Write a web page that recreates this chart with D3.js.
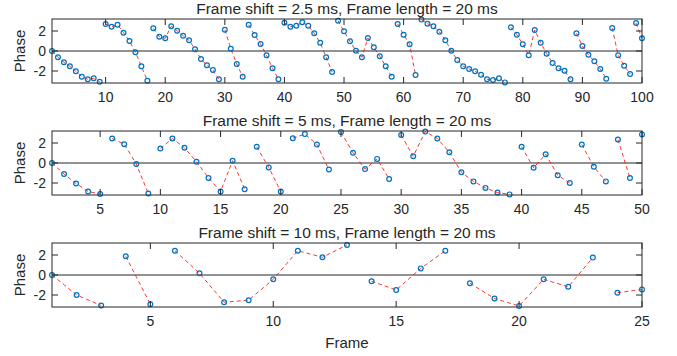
<!DOCTYPE html>
<html>
<head>
<meta charset="utf-8">
<script src="https://cdn.jsdelivr.net/npm/d3@7"></script>
<style>
  body { margin: 0; background: #fff; }
  svg text { font-family: "Liberation Sans", Arial, sans-serif; fill: #262626; }
</style>
</head>
<body>
<svg id="chart" width="677" height="356"></svg>
<script>
// phase per frame
var phase25 = [0, -0.63, -1.13, -1.53, -2.03, -2.57, -2.83, -2.73, -3.07, 2.7,
  2.43, 2.63, 1.83, 1.0, -0.13, -1.53, -2.97, 2.27, 1.43, 1.27,
  2.47, 2.03, 1.53, 1.07, 0.17, -0.8, -1.43, -1.9, -2.83, 2.13,
  0.23, -1.3, -2.57, 2.63, 1.6, 0.7, -0.43, -1.73, -2.83, 2.83,
  2.43, 2.53, 2.87, 2.53, 1.77, 0.83, -0.63, -2.1, 3.03, 1.97,
  0.97, 0.03, -0.63, 1.3, 0.37, -0.53, -1.53, -2.57, 2.7, 1.63,
  0.67, -2.4, 3.14, 2.73, 2.47, 1.93, 1.07, 0.03, -0.9, -1.53,
  -1.8, -2.03, -2.37, -2.83, -2.9, -2.73, -3.14, 2.37, 1.63, 0.67,
  -0.43, 2.1, 0.83, -0.27, -1.2, -1.73, -1.97, -2.83, 1.77, 0.5,
  -0.37, -1.03, -1.8, -2.77, 2.3, -0.43, -1.47, -2.3, 2.8, 1.27];
var phase5 = [0, -1.1, -2.05, -2.85, -3.1, 2.45, 1.88, -0.1, -3.05, 1.45,
  2.45, 1.52, 0.13, -1.5, -2.85, 0.23, -2.62, 1.63, -0.45, -2.85,
  2.48, 2.89, 1.84, -0.65, 3.09, 1.02, -0.61, 0.41, -1.6, 2.79,
  0.67, 3.14, 2.45, 1.08, -0.92, -1.84, -2.49, -2.96, -3.14, 1.63,
  -0.48, 0.88, -1.22, -2.0, 1.84, -0.37, -1.84, 2.35, -1.5, 2.86];
var phase10 = [0, -2.0, -3.05, 1.87, -2.92, 2.43, 0.17, -2.72, -2.52, -0.43,
  2.43, 1.77, 3.0, -0.62, -1.5, 0.66, 2.43, -0.82, -2.35, -3.1,
  -0.43, -1.18, 1.74, -1.77, -1.44];

// frames where the dashed line starts again
var breaks25 = [10, 18, 30, 34, 40, 49, 59, 63, 78, 89, 95, 99];
var breaks5 = [6, 10, 18, 21, 25, 30, 40, 45, 48, 50];
var breaks10 = [4, 6, 14, 18, 24];

var titles = ["Frame shift = 2.5 ms, Frame length = 20 ms",
  "Frame shift = 5 ms, Frame length = 20 ms",
  "Frame shift = 10 ms, Frame length = 20 ms"];
var xTicks25 = [10, 20, 30, 40, 50, 60, 70, 80, 90, 100];
var xTicks5 = [5, 10, 15, 20, 25, 30, 35, 40, 45, 50];
var xTicks10 = [5, 10, 15, 20, 25];
var yTicks = [-2, 0, 2];

var svg = d3.select('#chart');
var left = 52, right = 642, axH = 64;
var tops = [19, 131, 243];

function panel(i, values, breaks, ticks) {
    var top = tops[i];
    var g = svg.append('g');
    var x = d3.scaleLinear().domain([1, values.length]).range([left, right]);
    var y = d3.scaleLinear().domain([-3.2, 3.2]).range([top + axH, top]);

    // zero line
    g.append('line')
        .attr('x1', left).attr('x2', right)
        .attr('y1', y(0)).attr('y2', y(0))
        .attr('stroke', '#6e6e6e').attr('stroke-width', 1.3);

    // split into runs
    var runs = [], cur = [];
    values.forEach(function(v, k) {
        var frame = k + 1;
        if (breaks.indexOf(frame) >= 0 && cur.length) {
            runs.push(cur);
            cur = [];
        }
        cur.push([frame, v]);
    });
    runs.push(cur);

    var line = d3.line()
        .x(function(d) { return x(d[0]); })
        .y(function(d) { return y(d[1]); });

    g.selectAll('path.run').data(runs).enter().append('path')
        .attr('class', 'run')
        .attr('d', line)
        .attr('fill', 'none')
        .attr('stroke', '#ff0000')
        .attr('stroke-width', 0.8)
        .attr('stroke-dasharray', '4,3');

    g.selectAll('circle').data(values).enter().append('circle')
        .attr('cx', function(d, k) { return x(k + 1); })
        .attr('cy', function(d) { return y(d); })
        .attr('r', 2.4)
        .attr('fill', 'none')
        .attr('stroke', '#0072BD')
        .attr('stroke-width', 1.2);

    // box
    g.append('rect')
        .attr('x', left).attr('y', top)
        .attr('width', right - left).attr('height', axH)
        .attr('fill', 'none').attr('stroke', '#262626').attr('stroke-width', 1);

    var tl = 6;
    ticks.forEach(function(t) {
        g.append('line').attr('x1', x(t)).attr('x2', x(t))
            .attr('y1', top + axH).attr('y2', top + axH - tl)
            .attr('stroke', '#262626');
        g.append('line').attr('x1', x(t)).attr('x2', x(t))
            .attr('y1', top).attr('y2', top + tl)
            .attr('stroke', '#262626');
        g.append('text').attr('x', x(t)).attr('y', top + axH + 19)
            .attr('text-anchor', 'middle').attr('font-size', '14px')
            .text(t);
    });
    yTicks.forEach(function(t) {
        g.append('line').attr('x1', left).attr('x2', left + tl)
            .attr('y1', y(t)).attr('y2', y(t)).attr('stroke', '#262626');
        g.append('line').attr('x1', right).attr('x2', right - tl)
            .attr('y1', y(t)).attr('y2', y(t)).attr('stroke', '#262626');
        g.append('text').attr('x', left - 6).attr('y', y(t) + 5)
            .attr('text-anchor', 'end').attr('font-size', '14px')
            .text(t < 0 ? '-' + Math.abs(t) : t);
    });

    g.append('text')
        .attr('x', (left + right) / 2).attr('y', top - 5)
        .attr('text-anchor', 'middle').attr('font-size', '15.5px')
        .text(titles[i]);

    g.append('text')
        .attr('transform', 'translate(25,' + (top + axH / 2) + ') rotate(-90)')
        .attr('text-anchor', 'middle').attr('font-size', '15px')
        .text('Phase');
}

panel(0, phase25, breaks25, xTicks25);
panel(1, phase5, breaks5, xTicks5);
panel(2, phase10, breaks10, xTicks10);

svg.append('text')
    .attr('x', (left + right) / 2).attr('y', 348)
    .attr('text-anchor', 'middle').attr('font-size', '15px')
    .text('Frame');
</script>
</body>
</html>
